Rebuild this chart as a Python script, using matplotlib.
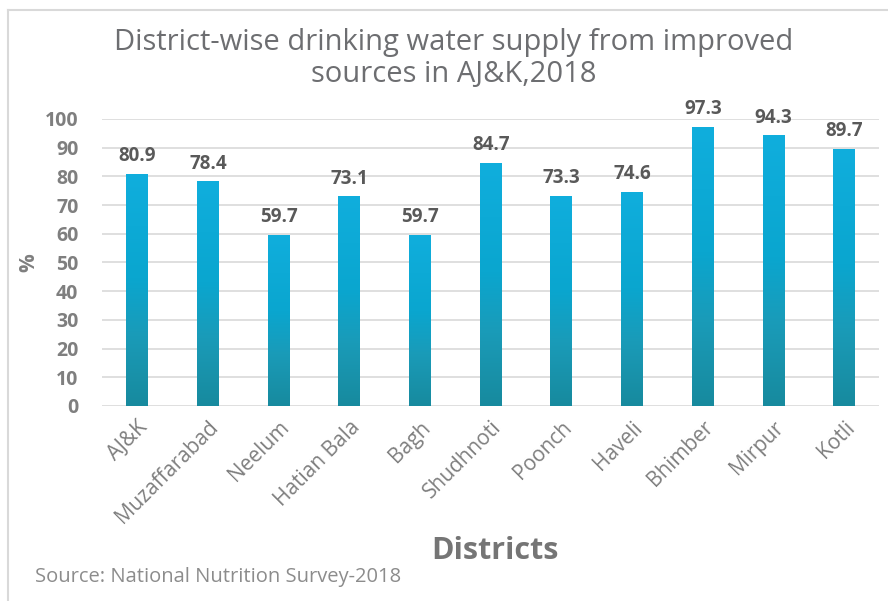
import numpy as np
import matplotlib.pyplot as plt
from matplotlib.colors import LinearSegmentedColormap
from matplotlib.lines import Line2D

districts = ['AJ&K', 'Muzaffarabad', 'Neelum', 'Hatian Bala', 'Bagh', 'Shudhnoti',
             'Poonch', 'Haveli', 'Bhimber', 'Mirpur', 'Kotli']
supply_pct = [80.9, 78.4, 59.7, 73.1, 59.7, 84.7, 73.3, 74.6, 97.3, 94.3, 89.7]
yticks = list(range(0, 101, 10))

plt.rcParams['font.family'] = ['Open Sans', 'DejaVu Sans']

# bottom -> top colour ramp used inside every bar
grad = LinearSegmentedColormap.from_list(
    'bar_grad', [(0.0, '#178A9E'), (0.3, '#1A9BB8'), (0.55, '#0AA6CF'), (1.0, '#10AEDD')])

fig = plt.figure(figsize=(8.88, 6.01), dpi=100)
ax = fig.add_axes([0.1149, 0.3245, 0.8755, 0.4775])

x = np.arange(len(districts))
bars = ax.bar(x, supply_pct, width=0.31, color='none', zorder=3)
ramp = np.linspace(0, 1, 256).reshape(-1, 1)
for b, v in zip(bars, supply_pct):
    x0 = b.get_x()
    im = ax.imshow(ramp, cmap=grad, origin='lower', aspect='auto',
                   extent=(x0, x0 + b.get_width(), 0, v), zorder=3)
    im.set_clip_path(b)
    ax.text(b.get_x() + b.get_width() / 2, v + 2.6, f'{v:.1f}', ha='center', va='bottom',
            fontsize=13.5, fontweight='bold', color='#595959')

ax.set_xlim(-0.5, len(districts) - 0.5)
ax.set_ylim(0, 100)
ax.set_yticks(yticks)
ax.set_yticklabels([str(t) for t in yticks], fontsize=14, fontweight='bold', color='#7F7F7F')
ax.set_xticks(x)
ax.set_xticklabels(districts, rotation=45, ha='right', va='top', rotation_mode='anchor',
                   fontsize=15, color='#7F7F7F')
ax.tick_params(axis='both', length=0)
ax.tick_params(axis='y', pad=17)
ax.tick_params(axis='x', pad=8)
ax.grid(axis='y', color='#D9D9D9', lw=1.2, zorder=0)
ax.set_axisbelow(True)
for s in ax.spines.values():
    s.set_visible(False)

ax.set_ylabel('%', fontsize=15, fontweight='bold', color='#7F7F7F', labelpad=4)

fig.text(0.511, 0.903, 'District-wise drinking water supply from improved\nsources in AJ&K,2018',
         ha='center', va='center', fontsize=21, color='#6D6E71', linespacing=1.12)
fig.text(0.557, 0.083, 'Districts', ha='center', va='center', fontsize=22,
         fontweight='bold', color='#757575')
fig.text(0.039, 0.04, 'Source: National Nutrition Survey-2018', ha='left', va='center',
         fontsize=14.5, color='#8C8C8C')

# thin frame along the top and left edges
fig.add_artist(Line2D([0.009, 0.009], [0.0, 0.983], color='#D9D9D9', lw=1.5))
fig.add_artist(Line2D([0.009, 1.0], [0.983, 0.983], color='#D9D9D9', lw=1.5))

fig.savefig('out.png', dpi=100)
